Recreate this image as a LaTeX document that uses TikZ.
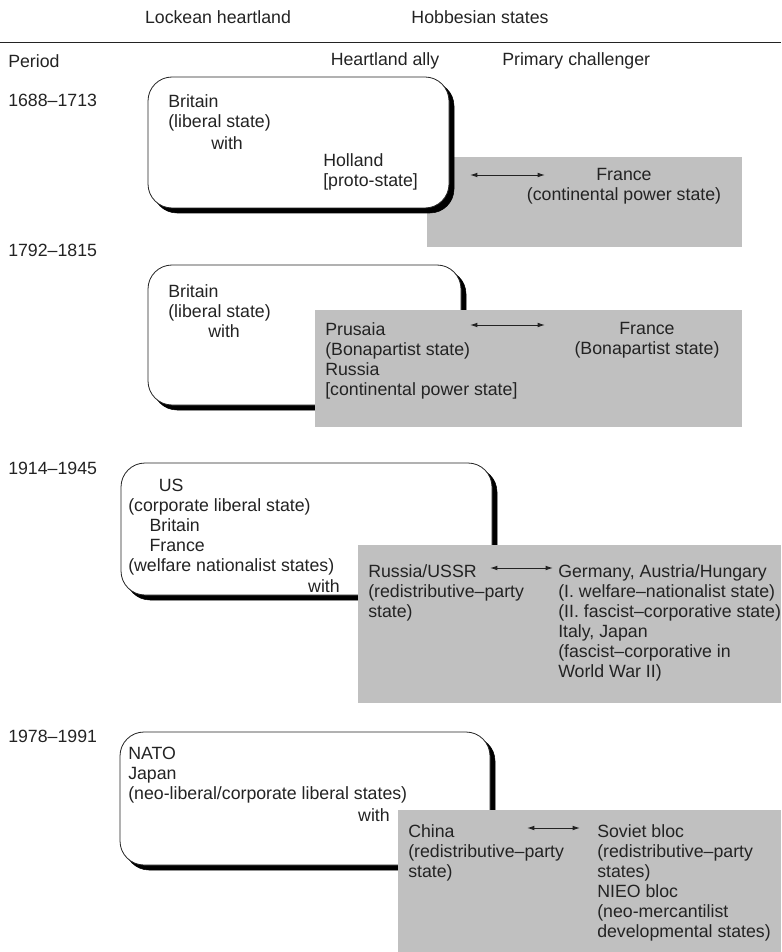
\documentclass[tikz,border=0pt]{standalone}
\usepackage{fontspec}
\setmainfont{Liberation Sans}
\usetikzlibrary{arrows.meta}
\definecolor{shade}{RGB}{192,192,192}
\definecolor{ink}{RGB}{35,35,35}

\begin{document}
\begin{tikzpicture}[x=0.75pt,y=-0.75pt,
	every node/.style={inner sep=0pt, text=ink, font=\fontsize{13.3}{15}\selectfont},
	txt/.style={anchor=north west, align=left},
	heart/.style={draw=ink, fill=white, line width=0.6pt, rounded corners=18pt},
	heartshadow/.style={fill=black, rounded corners=18pt},
	hobbes/.style={fill=shade},
	rival/.style={{Latex[length=5.5pt,width=3.5pt]}-{Latex[length=5.5pt,width=3.5pt]}, draw=ink, line width=0.7pt}]
	\useasboundingbox (0,0) rectangle (781,952);
	% header
	\node (lockean) at (218,17) {Lockean heartland};
	\node (hobbesian) at (480,17) {Hobbesian states};
	\draw[ink, line width=0.6pt] (0,42) -- (781,42);
	\node[anchor=west] (period) at (8,61) {Period};
	\node (ally) at (385,61) {Heartland ally};
	\node[anchor=west] (challenger) at (502,61) {Primary challenger};
	% 1688-1713
	\node[anchor=west] (p1) at (8,100) {1688–1713};
	\fill[hobbes] (427,157) rectangle (742,247);
	\draw[heartshadow] (153,82) rectangle (454,213);
	\draw[heart] (148,77) rectangle (449,208);
	\node[txt] (britain1) at (168,94) {Britain\\(liberal state)};
	\node[txt] (with1) at (211,136) {with};
	\node[txt] (holland) at (323,153) {Holland\\{[}proto-state{]}};
	\node[anchor=north, align=center] (france1) at (624,168) {France\\(continental power state)};
	\coordinate (a1l) at (470,175);
	\coordinate (a1r) at (545,175);
	\draw[rival] (a1l) -- (a1r);
	% 1792-1815
	\node[anchor=west] (p2) at (8,250) {1792–1815};
	\draw[heartshadow] (153,270) rectangle (466,410);
	\draw[heart] (148,265) rectangle (461,405);
	\fill[hobbes] (315,310) rectangle (742,427);
	\node[txt] (britain2) at (168,284) {Britain\\(liberal state)};
	\node[txt] (with2) at (208,324) {with};
	\node[txt] (prusaia) at (325,322) {Prusaia\\(Bonapartist state)\\Russia\\{[}continental power state{]}};
	\node[anchor=north, align=center] (france2) at (647,322) {France\\(Bonapartist state)};
	\coordinate (a2l) at (470,325);
	\coordinate (a2r) at (545,325);
	\draw[rival] (a2l) -- (a2r);
	% 1914-1945
	\node[anchor=west] (p3) at (8,468) {1914–1945};
	\draw[heartshadow] (126,468) rectangle (497,600);
	\draw[heart] (121,463) rectangle (492,595);
	\fill[hobbes] (358,545) rectangle (781,703);
	\node[txt] (us) at (128,479) {\hspace*{23pt}US\\(corporate liberal state)\\\hspace*{16pt}Britain\\\hspace*{16pt}France\\(welfare nationalist states)};
	\node[anchor=east] (with3) at (340,586) {with};
	\node[txt] (russia) at (368,564) {Russia/USSR\\(redistributive–party\\state)};
	\node[txt] (germany) at (558,564) {Germany, Austria/Hungary\\(I. welfare–nationalist state)\\(II. fascist–corporative state)\\Italy, Japan\\(fascist–corporative in\\World War II)};
	\coordinate (a3l) at (490,568);
	\coordinate (a3r) at (553,568);
	\draw[rival] (a3l) -- (a3r);
	% 1978-1991
	\node[anchor=west] (p4) at (8,736) {1978–1991};
	\draw[heartshadow] (125,737) rectangle (495,870);
	\draw[heart] (120,732) rectangle (490,865);
	\fill[hobbes] (398,810) rectangle (781,952);
	\node[txt] (nato) at (128,747) {NATO\\Japan\\(neo-liberal/corporate liberal states)};
	\node[anchor=east] (with4) at (390,815) {with};
	\node[txt] (china) at (408,824) {China\\(redistributive–party\\state)};
	\node[txt] (soviet) at (597,824) {Soviet bloc\\(redistributive–party\\states)\\NIEO bloc\\(neo-mercantilist\\developmental states)};
	\coordinate (a4l) at (527,828);
	\coordinate (a4r) at (580,828);
	\draw[rival] (a4l) -- (a4r);
\end{tikzpicture}
\end{document}
